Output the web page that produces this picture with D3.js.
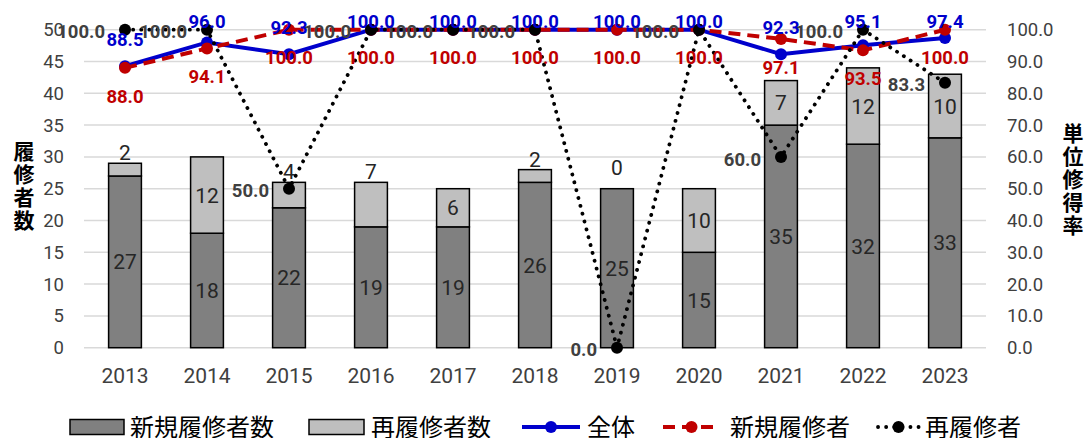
<!DOCTYPE html>
<html>
<head>
<meta charset="utf-8">
<script src="https://cdn.jsdelivr.net/npm/d3@7"></script>
<style>
  body { margin: 0; background: #fff; }
  svg text { font-family: Roboto, "Noto Sans CJK JP", sans-serif; }
</style>
</head>
<body>
<div id="chart"></div>
<script>
// data
const years = ['2013','2014','2015','2016','2017','2018','2019','2020','2021','2022','2023'];
const newCount = [27, 18, 22, 19, 19, 26, 25, 15, 35, 32, 33];
const reCount = [2, 12, 4, 7, 6, 2, 0, 10, 7, 12, 10];
const rateAll = [88.5, 96.0, 92.3, 100, 100, 100, 100, 100, 92.3, 95.1, 97.4];
const rateNew = [88.0, 94.1, 100, 100, 100, 100, 100, 100, 97.1, 93.5, 100];
const rateRe = [100, 100, 50, 100, 100, 100, 0, 100, 60, 100, 83.3];
const leftTicks = [0, 5, 10, 15, 20, 25, 30, 35, 40, 45, 50];
const rightTicks = [0, 10, 20, 30, 40, 50, 60, 70, 80, 90, 100];
// re-count labels that sit above the bar instead of inside
const reLabelAbove = ['2013', '2015', '2016', '2018', '2019'];

const width = 1086, height = 438;
const plot = { left: 84, right: 986, top: 29.7, bottom: 347.7 };

const svg = d3.select('#chart').append('svg')
  .attr('width', width).attr('height', height);

const x = d3.scaleBand().domain(years).range([plot.left, plot.right]).padding(0);
const cx = (d) => x(d) + x.bandwidth() / 2;
const barW = x.bandwidth() * 0.4;
const yL = d3.scaleLinear().domain([0, 50]).range([plot.bottom, plot.top]);
const yR = d3.scaleLinear().domain([0, 100]).range([plot.bottom, plot.top]);

// gridlines
svg.append('g').selectAll('line')
  .data(leftTicks)
  .enter().append('line')
  .attr('x1', plot.left).attr('x2', plot.right)
  .attr('y1', d => yL(d)).attr('y2', d => yL(d))
  .style('stroke', '#d9d9d9').style('stroke-width', 1.5);

// left axis
const axL = svg.append('g')
  .attr('transform', `translate(${plot.left - 20},0)`)
  .call(d3.axisLeft(yL).tickValues(leftTicks).tickSize(0).tickPadding(0));
axL.select('.domain').remove();
axL.selectAll('text').style('font-size', '18.5px').style('fill', '#404040')
  .style('font-family', 'Roboto, sans-serif');

// right axis
const axR = svg.append('g')
  .attr('transform', `translate(${plot.right + 21},0)`)
  .call(d3.axisRight(yR).tickValues(rightTicks).tickSize(0).tickPadding(0)
    .tickFormat(d3.format('.1f')));
axR.select('.domain').remove();
axR.selectAll('text').style('font-size', '18.5px').style('fill', '#404040')
  .style('font-family', 'Roboto, sans-serif');

// x axis labels
const axX = svg.append('g')
  .attr('transform', `translate(0,${plot.bottom + 20})`)
  .call(d3.axisBottom(x).tickSize(0).tickPadding(0));
axX.select('.domain').remove();
axX.selectAll('text').style('font-size', '21px').style('fill', '#404040')
  .attr('dy', '0.71em').style('font-family', 'Roboto, sans-serif');

// axis titles, written vertically
function vTitle(str, xPos, yTop) {
  svg.append('text')
    .attr('x', xPos).attr('y', yTop)
    .style('writing-mode', 'vertical-rl')
    .style('text-orientation', 'upright')
    .style('letter-spacing', '2px')
    .style('font-size', '21px').style('font-weight', 'bold')
    .style('font-family', '"Noto Sans CJK JP", sans-serif')
    .style('fill', '#000')
    .text(str);
}
vTitle('履修者数', 24, 141);
vTitle('単位修得率', 1073, 123);

// stacked bars
const barData = years.map((y, i) => ({ year: y, n: newCount[i], r: reCount[i] }));
const bars = svg.append('g');
bars.selectAll('rect.new')
  .data(barData).enter().append('rect')
  .attr('class', 'new')
  .attr('x', d => cx(d.year) - barW / 2).attr('width', barW)
  .attr('y', d => yL(d.n)).attr('height', d => yL(0) - yL(d.n))
  .style('fill', '#808080').style('stroke', '#000').style('stroke-width', 1.5);
bars.selectAll('rect.re')
  .data(barData.filter(d => d.r > 0)).enter().append('rect')
  .attr('class', 're')
  .attr('x', d => cx(d.year) - barW / 2).attr('width', barW)
  .attr('y', d => yL(d.n + d.r)).attr('height', d => yL(d.n) - yL(d.n + d.r))
  .style('fill', '#bfbfbf').style('stroke', '#000').style('stroke-width', 1.5);

// bar labels
bars.selectAll('text.new')
  .data(barData).enter().append('text')
  .attr('x', d => cx(d.year)).attr('y', d => yL(d.n / 2))
  .attr('text-anchor', 'middle').attr('dy', '0.36em')
  .style('font-size', '21px').style('fill', '#262626')
  .text(d => d.n);
bars.selectAll('text.re')
  .data(barData).enter().append('text')
  .attr('x', d => cx(d.year))
  .attr('y', d => reLabelAbove.includes(d.year)
    ? yL(d.n + d.r) - (d.r === 0 ? 14 : 3)
    : yL(d.n + d.r / 2))
  .attr('dy', d => reLabelAbove.includes(d.year) ? 0 : '0.36em')
  .attr('text-anchor', 'middle')
  .style('font-size', '21px').style('fill', '#262626')
  .text(d => d.r);

// rate lines
function rateLine(vals, color, dash, width) {
  const pts = years.map((y, i) => [cx(y), yR(vals[i])]);
  const g = svg.append('g');
  g.append('path')
    .attr('d', d3.line()(pts))
    .style('fill', 'none').style('stroke', color)
    .style('stroke-width', width)
    .style('stroke-dasharray', dash)
    .style('stroke-linecap', dash === '0.1 8' ? 'round' : 'butt');
  g.selectAll('circle')
    .data(pts).enter().append('circle')
    .attr('cx', d => d[0]).attr('cy', d => d[1]).attr('r', 6)
    .style('fill', color);
  return pts;
}
const ptsAll = rateLine(rateAll, '#0000cc', null, 4);
const ptsNew = rateLine(rateNew, '#c00000', '12 7', 4);
const ptsRe = rateLine(rateRe, '#000000', '0.1 8', 3.8);

// rate labels
const lab = svg.append('g').style('font-size', '18.5px').style('font-weight', 'bold');
lab.selectAll('text.re')
  .data(ptsRe).enter().append('text')
  .attr('x', d => d[0] - 20).attr('y', d => d[1] + 2)
  .attr('text-anchor', 'end').attr('dy', '0.36em')
  .style('fill', '#404040')
  .text((d, i) => d3.format('.1f')(rateRe[i]));
lab.selectAll('text.all')
  .data(ptsAll).enter().append('text')
  .attr('x', d => d[0]).attr('y', d => Math.max(d[1] - 27, 21))
  .attr('text-anchor', 'middle').attr('dy', '0.36em')
  .style('fill', '#0000cc')
  .text((d, i) => d3.format('.1f')(rateAll[i]));
lab.selectAll('text.new')
  .data(ptsNew).enter().append('text')
  .attr('x', d => d[0]).attr('y', d => d[1] + 28)
  .attr('text-anchor', 'middle').attr('dy', '0.36em')
  .style('fill', '#c00000')
  .text((d, i) => d3.format('.1f')(rateNew[i]));

// legend
const leg = svg.append('g').attr('transform', 'translate(0,427)');
const legFont = (t) => t.style('font-size', '24px')
  .style('font-family', '"Noto Sans CJK JP", sans-serif').style('fill', '#000')
  .attr('dy', '0.36em');
leg.append('rect').attr('x', 70).attr('y', -7.5).attr('width', 54).attr('height', 15)
  .style('fill', '#808080').style('stroke', '#000').style('stroke-width', 1.5);
leg.append('text').attr('x', 130).attr('y', 0).call(legFont).text('新規履修者数');
leg.append('rect').attr('x', 309).attr('y', -7.5).attr('width', 55).attr('height', 15)
  .style('fill', '#bfbfbf').style('stroke', '#000').style('stroke-width', 1.5);
leg.append('text').attr('x', 371).attr('y', 0).call(legFont).text('再履修者数');

function legLine(x0, x1, color, dash, w) {
  leg.append('line').attr('x1', x0).attr('x2', x1).attr('y1', 0).attr('y2', 0)
    .style('stroke', color).style('stroke-width', w)
    .style('stroke-dasharray', dash)
    .style('stroke-linecap', dash === '0.1 8' ? 'round' : 'butt');
  leg.append('circle').attr('cx', (x0 + x1) / 2).attr('cy', 0).attr('r', 6).style('fill', color);
}
legLine(522, 580, '#0000cc', null, 4);
leg.append('text').attr('x', 587).attr('y', 0).call(legFont).text('全体');
legLine(663, 720, '#c00000', '12 7', 4);
leg.append('text').attr('x', 730).attr('y', 0).call(legFont).text('新規履修者');
legLine(878, 919, '#000000', '0.1 8', 3.8);
leg.append('text').attr('x', 925).attr('y', 0).call(legFont).text('再履修者');
</script>
</body>
</html>
